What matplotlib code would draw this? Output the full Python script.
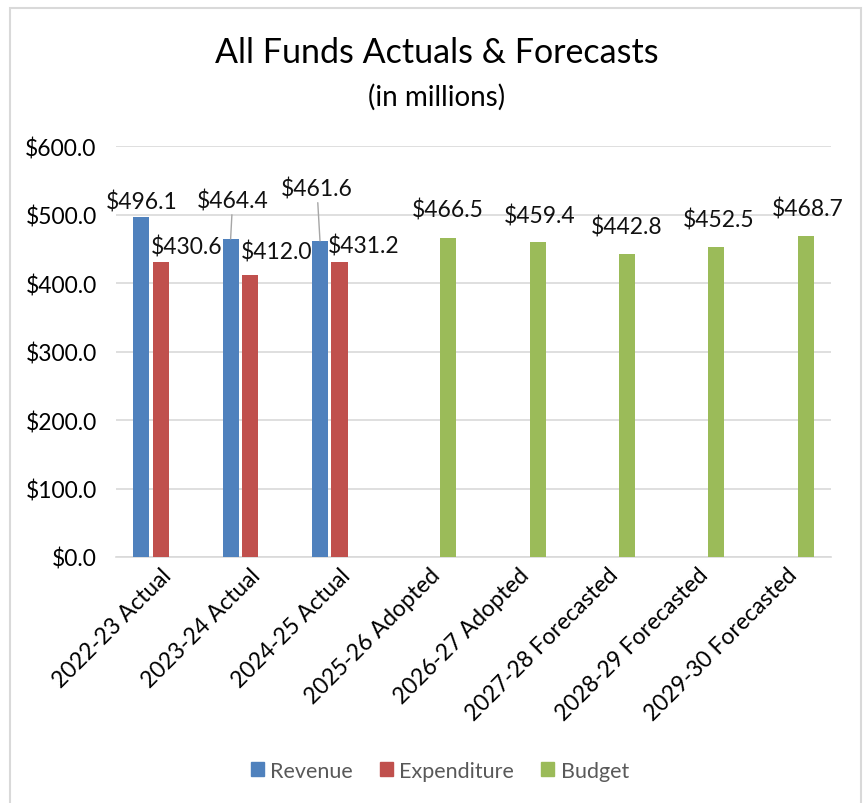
import matplotlib.pyplot as plt
import matplotlib.patches as mpatches
import numpy as np

plt.rcParams['font.family'] = ['Lato', 'DejaVu Sans']

categories = ['2022-23 Actual', '2023-24 Actual', '2024-25 Actual', '2025-26 Adopted',
              '2026-27 Adopted', '2027-28 Forecasted', '2028-29 Forecasted', '2029-30 Forecasted']
revenue = [496.1, 464.4, 461.6, None, None, None, None, None]
expenditure = [430.6, 412.0, 431.2, None, None, None, None, None]
budget = [None, None, None, 466.5, 459.4, 442.8, 452.5, 468.7]
y_ticks = [0, 100, 200, 300, 400, 500, 600]

colors = {'Revenue': '#4f81bd', 'Expenditure': '#c0504d', 'Budget': '#9bbb59'}

# label offsets in pixels (dx, dy) from bar top centre, as placed in the original
rev_offsets = [(0, 16), (2, 38), (-3, 52)]
exp_offsets = [(26, 16), (26, 23), (24, 16)]
bud_offsets = [(-1, 28), (2, 27), (0, 27), (2, 28), (2, 28)]

fig = plt.figure(figsize=(8.66, 8.04), dpi=100)
ax = fig.add_axes([0.134, 0.306, 0.8256, 0.511])

x = np.arange(len(categories))
width = 0.18
off = 0.218


def draw_series(vals, shift, name, offsets):
    idx = [i for i, v in enumerate(vals) if v is not None]
    vv = [vals[i] for i in idx]
    ax.bar(x[idx] + shift, vv, width, color=colors[name], label=name, zorder=3)
    for (i, v), (dx, dy) in zip(zip(idx, vv), offsets):
        arrow = None
        if dy > 35:
            arrow = dict(arrowstyle='-', color='#a6a6a6', lw=1, shrinkA=0, shrinkB=0)
        ax.annotate(f'${v:.1f}', xy=(x[i] + shift, v), xytext=(dx, dy),
                    textcoords='offset pixels', ha='center', va='center',
                    fontsize=16.5, color='#111111', arrowprops=arrow, zorder=4)


draw_series(revenue, -off, 'Revenue', rev_offsets)
draw_series(expenditure, 0, 'Expenditure', exp_offsets)
draw_series(budget, off, 'Budget', bud_offsets)

ax.set_xlim(-0.5, len(categories) - 0.5)
ax.set_ylim(0, 600)
ax.set_yticks(y_ticks)
ax.set_yticklabels([f'${t:.1f}' for t in y_ticks], fontsize=16.5)
ax.set_xticks(x)
ax.set_xticklabels(categories, rotation=45, ha='right', rotation_mode='anchor', fontsize=16.5)
ax.tick_params(axis='both', length=0, pad=14)
ax.tick_params(axis='x', pad=5)
ax.yaxis.grid(True, color='#d9d9d9', lw=1.2, zorder=0)
for s in ['left', 'right', 'top']:
    ax.spines[s].set_visible(False)
ax.spines['bottom'].set_color('#d9d9d9')
ax.spines['bottom'].set_linewidth(1.2)

fig.text(0.504, 0.934, 'All Funds Actuals & Forecasts', ha='center', va='center', fontsize=24.5)
fig.text(0.504, 0.879, '(in millions)', ha='center', va='center', fontsize=20)

handles = [mpatches.Patch(color=colors[k]) for k in ['Revenue', 'Expenditure', 'Budget']]
leg = fig.legend(handles, ['Revenue', 'Expenditure', 'Budget'], loc='center',
                 bbox_to_anchor=(0.508, 0.04), ncol=3, frameon=False, fontsize=15.5,
                 handlelength=0.6, handleheight=0.6, handletextpad=0.3, columnspacing=1.25)
for t in leg.get_texts():
    t.set_color('#595959')

fig.patches.append(mpatches.Rectangle((10 / 866, -0.01), 851 / 866, 1 - 9 / 804 + 0.01,
                                      transform=fig.transFigure, fill=False,
                                      edgecolor='#d9d9d9', lw=1.5))

plt.savefig('out.png', dpi=100)
